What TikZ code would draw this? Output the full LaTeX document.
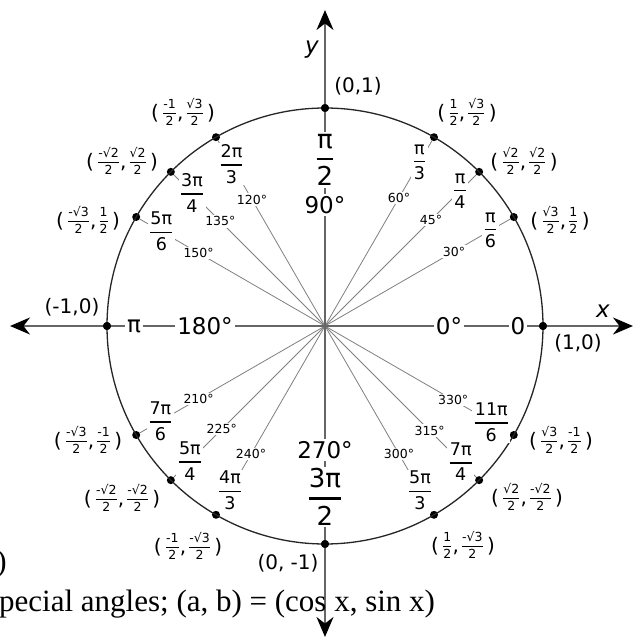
\documentclass[tikz,border=0pt]{standalone}
\usepackage{amsmath}
\usepackage{fontspec}
\setmainfont{DejaVu Sans}
\newfontfamily\timesfont{Liberation Serif}
\usetikzlibrary{arrows.meta}

\newcommand{\fr}[2]{$\displaystyle{\text{#1}\above 1.5pt\text{#2}}$}
\newcommand{\bigfr}[2]{$\displaystyle{\text{#1}\above 2.2pt\text{#2}}$}
\newcommand{\sfr}[2]{\raisebox{3pt}{\fontsize{12.5}{12.5}\selectfont$\displaystyle{\text{#1}\above 0.9pt\text{#2}}$}}
\newcommand{\cpair}[4]{(\,\sfr{#1}{#2},\kern2pt\sfr{#3}{#4}\,)}

\begin{document}
\begin{tikzpicture}[
  x=1pt, y=1pt,
  frac/.style={fill=white, inner sep=1.5pt, font=\fontsize{17.5}{17.5}\selectfont},
  bigfrac/.style={fill=white, inner sep=2pt, font=\fontsize{26}{26}\selectfont},
  deg/.style={fill=white, inner sep=1.5pt, font=\fontsize{12.5}{12.5}\selectfont},
  bigdeg/.style={fill=white, inner sep=2pt, font=\fontsize{23}{23}\selectfont},
  coord/.style={inner sep=0pt, font=\fontsize{20}{20}\selectfont},
  axlabel/.style={inner sep=0pt, font=\fontsize{20}{20}\selectfont},
  dot/.style={circle, fill=black, inner sep=0pt, minimum size=8pt},
  ray/.style={black!50, line width=0.8pt},
  axis/.style={black!60, line width=1.6pt,
    {Stealth[length=20pt,width=17pt,black]}-{Stealth[length=20pt,width=17pt,black]}},
  unit/.style={black!85, line width=1.3pt},
]

\fill[white] (-325,-312) rectangle (310,326);
\useasboundingbox (-325,-312) rectangle (310,326);

%% --- Centre, axis ends ---
\coordinate (O) at (0,0);
\coordinate (xl) at (-315,0);
\coordinate (xr) at (308,0);
\coordinate (yb) at (0,-311);
\coordinate (yt) at (0,316);

%% --- Points on the circle ---
\node[dot] (p0)   at (0:218)   {};
\node[dot] (p30)  at (30:218)  {};
\node[dot] (p45)  at (45:218)  {};
\node[dot] (p60)  at (60:218)  {};
\node[dot] (p90)  at (90:218)  {};
\node[dot] (p120) at (120:218) {};
\node[dot] (p135) at (135:218) {};
\node[dot] (p150) at (150:218) {};
\node[dot] (p180) at (180:218) {};
\node[dot] (p210) at (210:218) {};
\node[dot] (p225) at (225:218) {};
\node[dot] (p240) at (240:218) {};
\node[dot] (p270) at (270:218) {};
\node[dot] (p300) at (300:218) {};
\node[dot] (p315) at (315:218) {};
\node[dot] (p330) at (330:218) {};

%% --- Rays, axes and circle ---
\draw[ray] (O) -- (p30);
\draw[ray] (O) -- (p45);
\draw[ray] (O) -- (p60);
\draw[ray] (O) -- (p120);
\draw[ray] (O) -- (p135);
\draw[ray] (O) -- (p150);
\draw[ray] (O) -- (p210);
\draw[ray] (O) -- (p225);
\draw[ray] (O) -- (p240);
\draw[ray] (O) -- (p300);
\draw[ray] (O) -- (p315);
\draw[ray] (O) -- (p330);
\draw[axis] (xl) -- (xr);
\draw[axis] (yb) -- (yt);
\draw[unit] (O) circle[radius=218pt];
\node[dot] at (p0) {};
\node[dot] at (p90) {};
\node[dot] at (p180) {};
\node[dot] at (p270) {};

%% --- Radian labels ---
\node[frac] (r30)  at (30:191)  {\fr{π}{6}};
\node[frac] (r45)  at (45:191)  {\fr{π}{4}};
\node[frac] (r60)  at (60:189)  {\fr{π}{3}};
\node[frac] (r120) at (120:187) {\fr{2π}{3}};
\node[frac] (r135) at (135:188) {\fr{3π}{4}};
\node[frac] (r150) at (150:189) {\fr{5π}{6}};
\node[frac] (r210) at (210:190) {\fr{7π}{6}};
\node[frac] (r225) at (225:191) {\fr{5π}{4}};
\node[frac] (r240) at (240:190) {\fr{4π}{3}};
\node[frac] (r300) at (300:190) {\fr{5π}{3}};
\node[frac] (r315) at (315:192) {\fr{7π}{4}};
\node[frac] (r330) at (330:192) {\fr{11π}{6}};
\node[bigfrac] (r90)  at (0,166)  {\bigfr{π}{2}};
\node[bigfrac] (r270) at (0,-171) {\bigfr{3π}{2}};
\node[bigdeg] (r180) at (-191,0) {π};
\node[bigdeg] (r0)   at (193,0)  {0};

%% --- Degree labels ---
\node[deg] (d30)  at (30:149)  {30°};
\node[deg] (d45)  at (45:150)  {45°};
\node[deg] (d60)  at (60:148)  {60°};
\node[deg] (d120) at (120:146) {120°};
\node[deg] (d135) at (135:148) {135°};
\node[deg] (d150) at (150:146) {150°};
\node[deg] (d210) at (210:146) {210°};
\node[deg] (d225) at (225:146) {225°};
\node[deg] (d240) at (240:148) {240°};
\node[deg] (d300) at (300:148) {300°};
\node[deg] (d315) at (315:148) {315°};
\node[deg] (d330) at (330:148) {330°};
\node[bigdeg] (d90)  at (0,121)   {90°};
\node[bigdeg] (d180) at (-120,0)  {180°};
\node[bigdeg] (d0)   at (124,0)   {0°};
\node[bigdeg] (d270) at (0,-124)  {270°};

%% --- Coordinates (cos, sin) ---
\node[axlabel] (c0)   at (253,-17)  {(1,0)};
\node[axlabel] (c90)  at (33,240)   {(0,1)};
\node[axlabel] (c180) at (-253,19)  {(-1,0)};
\node[axlabel] (c270) at (-37,-237) {(0, -1)};
\node[coord] (c30)  at (235,106)   {\cpair{√3}{2}{1}{2}};
\node[coord] (c45)  at (199,165)   {\cpair{√2}{2}{√2}{2}};
\node[coord] (c60)  at (142,214)   {\cpair{1}{2}{√3}{2}};
\node[coord] (c120) at (-142,214)  {\cpair{-1}{2}{√3}{2}};
\node[coord] (c135) at (-203,165)  {\cpair{-√2}{2}{√2}{2}};
\node[coord] (c150) at (-237,106)  {\cpair{-√3}{2}{1}{2}};
\node[coord] (c210) at (-237,-114) {\cpair{-√3}{2}{-1}{2}};
\node[coord] (c225) at (-203,-172) {\cpair{-√2}{2}{-√2}{2}};
\node[coord] (c240) at (-137,-220) {\cpair{-1}{2}{-√3}{2}};
\node[coord] (c300) at (138,-219)  {\cpair{1}{2}{-√3}{2}};
\node[coord] (c315) at (202,-171)  {\cpair{√2}{2}{-√2}{2}};
\node[coord] (c330) at (236,-114)  {\cpair{√3}{2}{-1}{2}};

%% --- Axis names ---
\node[font=\fontsize{23}{23}\selectfont\itshape, inner sep=0pt] (ylab) at (-13,276) {y};
\node[font=\fontsize{23}{23}\selectfont\itshape, inner sep=0pt] (xlab) at (278,15) {x};

%% --- Page text ---
\node[anchor=base east, inner sep=0pt, font=\timesfont\fontsize{31}{31}\selectfont] (paren) at (-318,-245) {)};
\node[anchor=base west, inner sep=0pt, font=\timesfont\fontsize{31}{31}\selectfont] (caption) at (-326,-285)
  {pecial angles; (a, b) = (cos x, sin x)};

\end{tikzpicture}
\end{document}
